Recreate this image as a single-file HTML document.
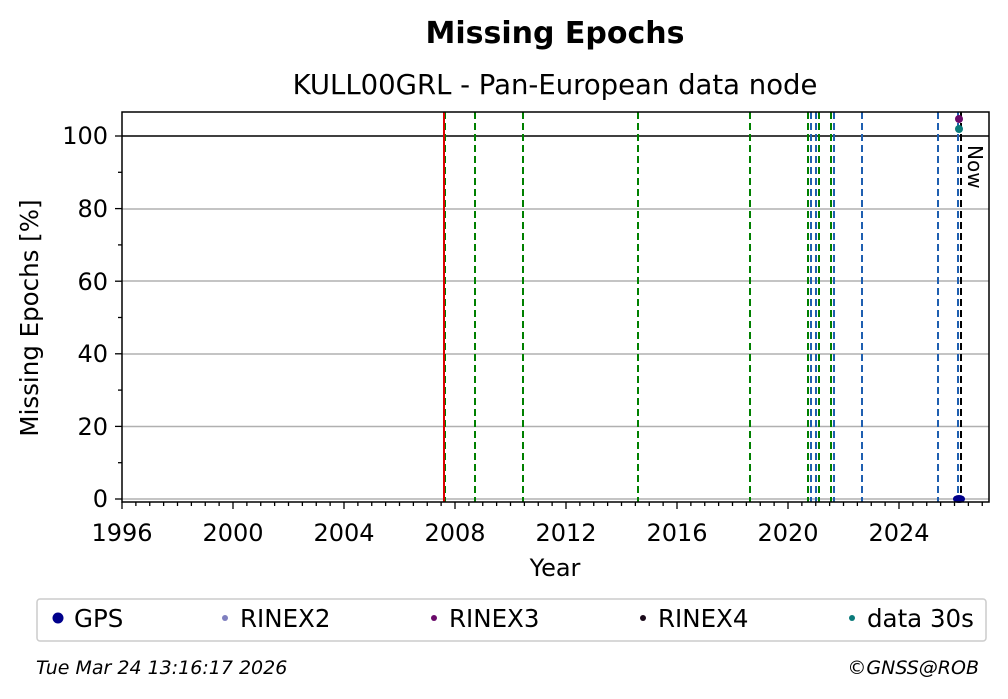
<!DOCTYPE html>
<html><head><meta charset="utf-8"><style>
body{margin:0;background:#fff;}
svg{display:block;font-family:"DejaVu Sans","Liberation Sans",sans-serif;}
</style></head><body>
<svg id="s" width="1008" height="699" viewBox="0 0 1008 699" xmlns="http://www.w3.org/2000/svg">
<rect width="1008" height="699" fill="#fff"/>
<text x="555" y="43" font-size="30" font-weight="bold" text-anchor="middle">Missing Epochs</text>
<text x="555" y="94" font-size="27.5" text-anchor="middle">KULL00GRL - Pan-European data node</text>
<g stroke="#b0b0b0" stroke-width="1.5">
<line x1="122" x2="989" y1="499" y2="499"/>
<line x1="122" x2="989" y1="426.5" y2="426.5"/>
<line x1="122" x2="989" y1="354" y2="354"/>
<line x1="122" x2="989" y1="281" y2="281"/>
<line x1="122" x2="989" y1="209" y2="209"/>
</g>
<line x1="122" x2="989" y1="136" y2="136" stroke="#000" stroke-width="1.5"/>
<g stroke-width="2" stroke-dasharray="7,4">
<line x1="475" x2="475" y1="112" y2="502" stroke="#008000"/>
<line x1="523" x2="523" y1="112" y2="502" stroke="#008000"/>
<line x1="638" x2="638" y1="112" y2="502" stroke="#008000"/>
<line x1="750" x2="750" y1="112" y2="502" stroke="#008000"/>
<line x1="808" x2="808" y1="112" y2="502" stroke="#008000"/>
<line x1="819" x2="819" y1="112" y2="502" stroke="#008000"/>
<line x1="831" x2="831" y1="112" y2="502" stroke="#008000"/>
<line x1="811" x2="811" y1="112" y2="502" stroke="#1f5fb0"/>
<line x1="816" x2="816" y1="112" y2="502" stroke="#1f5fb0"/>
<line x1="834" x2="834" y1="112" y2="502" stroke="#1f5fb0"/>
<line x1="862" x2="862" y1="112" y2="502" stroke="#1f5fb0"/>
<line x1="938" x2="938" y1="112" y2="502" stroke="#1f5fb0"/>
<line x1="958" x2="958" y1="112" y2="502" stroke="#1f5fb0"/>
<line x1="961" x2="961" y1="112" y2="502" stroke="#000"/>
</g>
<line x1="444" x2="444" y1="112" y2="502" stroke="#d00" stroke-width="2"/>
<line x1="445.5" x2="445.5" y1="112" y2="502" stroke="#008000" stroke-width="1" stroke-dasharray="7,4"/>
<circle cx="959" cy="119" r="4" fill="#6a0a6a"/>
<circle cx="959" cy="129" r="4" fill="#0a7a7a"/>
<ellipse cx="959" cy="499" rx="6" ry="4" fill="#00008b"/>
<text x="968" y="145" font-size="20" transform="rotate(90 968 145)">Now</text>
<rect x="122" y="112" width="867" height="390" fill="none" stroke="#000" stroke-width="1.5"/>
<g id="ticks" stroke="#000" stroke-width="1.3"></g>
<g font-size="24" text-anchor="end">
<text x="108" y="507">0</text><text x="108" y="435">20</text><text x="108" y="362">40</text>
<text x="108" y="290">60</text><text x="108" y="217">80</text><text x="108" y="144">100</text>
</g>
<g font-size="24" text-anchor="middle">
<text x="122" y="541">1996</text><text x="233" y="541">2000</text><text x="344" y="541">2004</text>
<text x="455" y="541">2008</text><text x="566" y="541">2012</text><text x="677" y="541">2016</text>
<text x="788" y="541">2020</text><text x="899" y="541">2024</text>
<text x="555" y="576">Year</text>
</g>
<text x="38" y="318" font-size="24.5" text-anchor="middle" transform="rotate(-90 38 318)">Missing Epochs [%]</text>
<rect x="37" y="599" width="949" height="42" rx="3" fill="#fff" stroke="#ccc" stroke-width="1.5"/>
<g font-size="24.5">
<circle cx="58" cy="618" r="5.5" fill="#00008b"/><text x="74" y="627">GPS</text>
<circle cx="225" cy="618" r="3" fill="#7f7fbf"/><text x="240" y="627">RINEX2</text>
<circle cx="434" cy="618" r="3" fill="#6a0a6a"/><text x="449" y="627">RINEX3</text>
<circle cx="643" cy="618" r="3" fill="#1a0a1a"/><text x="658" y="627">RINEX4</text>
<circle cx="852" cy="618" r="3" fill="#0a7a7a"/><text x="867" y="627">data 30s</text>
</g>
<text x="36" y="674" font-size="19" font-style="italic">Tue Mar 24 13:16:17 2026</text>
<text x="979" y="674" font-size="19" font-style="italic" text-anchor="end">©GNSS@ROB</text>
</svg>
<script>
var g=document.getElementById('ticks'),h='';
for(var y=1996;y<=2027;y+=0.5){var x=122+(y-1996)*27.75;if(x>989)break;var maj=(y%4==0);h+='<line x1="'+x+'" x2="'+x+'" y1="502" y2="'+(maj?509:506)+'"/>';}
for(var v=0;v<=100;v+=10){var yy=499-v*3.63;var maj=(v%20==0);h+='<line x1="122" x2="'+(maj?115:118)+'" y1="'+yy+'" y2="'+yy+'"/>';}
g.innerHTML=h;
</script>
</body></html>
